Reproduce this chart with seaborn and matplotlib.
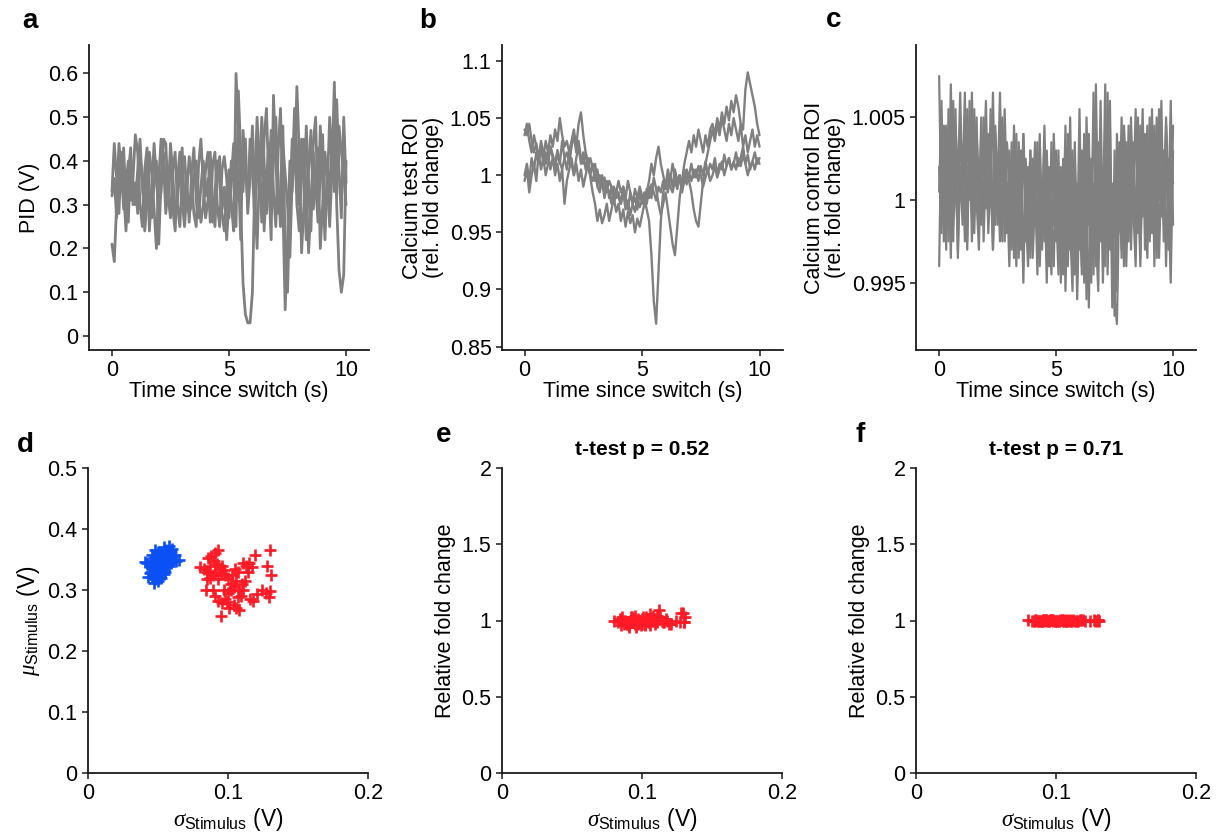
import numpy as np
import pandas as pd
import matplotlib
matplotlib.use("Agg")
import matplotlib.pyplot as plt
import seaborn as sns

# ---------------- data ----------------
time_s = np.round(np.arange(0, 10.01, 0.1), 2)

pid_trace1 = [0.21, 0.17, 0.30, 0.44, 0.38, 0.29, 0.35, 0.40, 0.31, 0.36,
              0.46, 0.42, 0.30, 0.25, 0.38, 0.43, 0.33, 0.27, 0.35, 0.40,
              0.21, 0.36, 0.45, 0.44, 0.32, 0.27, 0.38, 0.42, 0.30, 0.25,
              0.36, 0.41, 0.33, 0.28, 0.30, 0.36, 0.40, 0.32, 0.26, 0.30,
              0.38, 0.42, 0.31, 0.26, 0.33, 0.40, 0.35, 0.28, 0.24, 0.33,
              0.38, 0.30, 0.24, 0.60, 0.48, 0.30, 0.12, 0.05, 0.03, 0.03,
              0.10, 0.35, 0.50, 0.38, 0.26, 0.45, 0.52, 0.35, 0.22, 0.55,
              0.40, 0.28, 0.33, 0.48, 0.20, 0.10, 0.30, 0.45, 0.38, 0.57,
              0.42, 0.19, 0.30, 0.48, 0.35, 0.24, 0.44, 0.50, 0.28, 0.36,
              0.46, 0.25, 0.34, 0.50, 0.38, 0.58, 0.30, 0.15, 0.10, 0.14,
              0.40]
pid_trace2 = [0.33, 0.44, 0.36, 0.28, 0.42, 0.33, 0.24, 0.37, 0.43, 0.30,
              0.35, 0.28, 0.41, 0.36, 0.24, 0.31, 0.42, 0.37, 0.29, 0.20,
              0.36, 0.45, 0.40, 0.28, 0.34, 0.41, 0.29, 0.24, 0.36, 0.42,
              0.31, 0.25, 0.33, 0.41, 0.36, 0.28, 0.25, 0.39, 0.45, 0.35,
              0.27, 0.31, 0.42, 0.30, 0.25, 0.37, 0.41, 0.29, 0.34, 0.22,
              0.31, 0.40, 0.35, 0.25, 0.56, 0.42, 0.33, 0.45, 0.28, 0.36,
              0.48, 0.32, 0.20, 0.38, 0.50, 0.40, 0.28, 0.36, 0.47, 0.33,
              0.25, 0.42, 0.52, 0.30, 0.06, 0.22, 0.40, 0.33, 0.46, 0.30,
              0.24, 0.38, 0.45, 0.33, 0.19, 0.30, 0.42, 0.35, 0.26, 0.48,
              0.35, 0.22, 0.40, 0.30, 0.46, 0.33, 0.54, 0.38, 0.27, 0.50,
              0.35]
pid_trace3 = [0.32, 0.36, 0.27, 0.40, 0.33, 0.43, 0.30, 0.26, 0.41, 0.35,
              0.30, 0.38, 0.45, 0.34, 0.29, 0.40, 0.24, 0.34, 0.44, 0.36,
              0.29, 0.33, 0.42, 0.35, 0.30, 0.44, 0.37, 0.27, 0.31, 0.38,
              0.43, 0.29, 0.35, 0.26, 0.37, 0.43, 0.31, 0.27, 0.34, 0.40,
              0.32, 0.36, 0.26, 0.39, 0.42, 0.30, 0.25, 0.38, 0.41, 0.36,
              0.27, 0.36, 0.44, 0.31, 0.38, 0.22, 0.47, 0.39, 0.30, 0.45,
              0.38, 0.26, 0.42, 0.33, 0.48, 0.24, 0.35, 0.44, 0.29, 0.40,
              0.50, 0.35, 0.25, 0.44, 0.37, 0.30, 0.18, 0.36, 0.52, 0.42,
              0.30, 0.45, 0.34, 0.22, 0.38, 0.47, 0.29, 0.35, 0.43, 0.20,
              0.30, 0.42, 0.36, 0.25, 0.38, 0.45, 0.32, 0.48, 0.42, 0.37,
              0.30]

test_trace1 = [1.040, 1.035, 1.045, 1.030, 1.020, 1.028, 1.015, 1.025, 1.010, 1.020,
               1.015, 1.025, 1.018, 1.010, 1.022, 1.012, 1.005, 1.015, 1.020, 1.010,
               1.025, 1.035, 1.020, 1.030, 1.015, 1.010, 1.020, 1.008, 1.000, 0.995,
               1.005, 0.990, 0.985, 0.995, 0.980, 0.990, 0.985, 0.975, 0.990, 0.980,
               0.985, 0.975, 0.990, 0.980, 0.970, 0.985, 0.975, 0.980, 0.970, 0.985,
               0.975, 0.980, 0.970, 0.960, 0.930, 0.890, 0.870, 0.915, 0.960, 0.985,
               0.995, 0.985, 1.000, 0.990, 1.005, 0.995, 1.000, 0.990, 1.005, 0.995,
               1.000, 1.010, 0.998, 1.005, 0.995, 1.008, 1.000, 1.012, 1.002, 1.010,
               1.005, 1.015, 1.000, 1.010, 1.005, 1.018, 1.008, 1.015, 1.005, 1.010,
               1.020, 1.008, 1.015, 1.025, 1.010, 1.018, 1.005, 1.012, 1.020, 1.010,
               1.015]
test_trace2 = [1.000, 1.010, 0.995, 1.015, 1.005, 1.020, 1.010, 1.025, 1.015, 1.030,
               1.020, 1.035, 1.025, 1.040, 1.030, 1.050, 1.035, 1.025, 1.030, 1.020,
               1.030, 1.040, 1.025, 1.045, 1.055, 1.035, 1.020, 1.010, 1.015, 1.005,
               1.010, 0.995, 1.000, 0.990, 0.998, 0.985, 0.995, 0.990, 0.980, 0.988,
               0.980, 0.975, 0.985, 0.970, 0.978, 0.965, 0.975, 0.968, 0.980, 0.972,
               0.978, 0.985, 0.975, 0.990, 0.980, 0.998, 0.988, 0.975, 0.965, 0.975,
               0.985, 0.970, 0.955, 0.940, 0.930, 0.955, 0.980, 0.995, 1.010, 1.020,
               1.030, 1.020, 1.035, 1.025, 1.040, 1.030, 1.020, 1.035, 1.025, 1.040,
               1.045, 1.035, 1.050, 1.040, 1.055, 1.045, 1.060, 1.048, 1.065, 1.055,
               1.070, 1.060, 1.045, 1.040, 1.075, 1.090, 1.080, 1.070, 1.060, 1.045,
               1.035]
test_trace3 = [1.035, 1.045, 1.030, 1.020, 1.035, 1.025, 1.015, 1.030, 1.020, 1.010,
               1.020, 1.005, 1.015, 1.000, 1.010, 0.995, 1.005, 0.975, 0.995, 1.005,
               1.015, 1.000, 1.010, 0.995, 1.005, 0.990, 1.000, 1.010, 0.998, 0.985,
               0.975, 0.960, 0.970, 0.958, 0.965, 0.975, 0.960, 0.970, 0.980, 0.968,
               0.975, 0.960, 0.970, 0.955, 0.968, 0.958, 0.965, 0.950, 0.962, 0.955,
               0.965, 0.975, 0.985, 0.995, 1.010, 1.000, 1.015, 1.025, 1.010, 1.000,
               0.990, 1.005, 0.995, 1.010, 1.000, 0.990, 1.000, 0.985, 0.995, 1.005,
               0.995, 0.985, 0.970, 0.960, 0.955, 0.975, 0.995, 1.010, 1.020, 1.030,
               1.040, 1.030, 1.045, 1.035, 1.050, 1.040, 1.030, 1.045, 1.035, 1.050,
               1.040, 1.030, 1.045, 1.025, 1.035, 1.020, 1.030, 1.040, 1.025, 1.035,
               1.025]
test_trace4 = [0.995, 1.005, 0.985, 1.000, 1.010, 0.995, 1.020, 1.005, 1.015, 1.000,
               1.010, 1.025, 1.015, 1.005, 1.020, 1.010, 1.030, 1.015, 1.005, 1.020,
               1.010, 1.000, 1.015, 1.025, 1.010, 1.020, 1.005, 1.015, 1.000, 1.010,
               0.995, 1.005, 0.990, 1.000, 0.985, 0.995, 0.980, 0.990, 0.975, 0.985,
               0.995, 0.985, 0.990, 0.980, 0.995, 0.985, 0.975, 0.988, 0.980, 0.990,
               0.982, 0.975, 0.988, 0.980, 0.992, 0.985, 0.978, 0.990, 0.985, 0.995,
               0.988, 0.998, 0.990, 0.985, 0.995, 0.988, 0.998, 0.990, 1.000, 0.992,
               1.002, 0.995, 1.005, 0.998, 1.008, 1.000, 0.990, 0.998, 1.005, 0.995,
               1.000, 1.008, 0.998, 1.005, 1.012, 1.000, 1.008, 1.015, 1.005, 1.012,
               1.005, 1.015, 1.008, 1.018, 1.010, 1.000, 1.008, 1.012, 1.005, 1.015,
               1.010]

ctrl_trace1 = [1.0075, 0.9985, 1.0045, 0.9995, 1.0030, 0.9965, 1.0060, 1.0005, 0.9980, 1.0050,
               1.0010, 1.0065, 0.9975, 1.0035, 0.9990, 1.0055, 1.0000, 0.9970, 1.0040, 1.0015,
               1.0060, 0.9985, 1.0030, 0.9975, 1.0045, 1.0005, 1.0065, 0.9990, 1.0025, 0.9980,
               1.0030, 0.9970, 1.0015, 0.9960, 1.0035, 0.9990, 1.0040, 0.9975, 1.0020, 0.9965,
               1.0025, 0.9985, 1.0035, 0.9960, 1.0010, 0.9975, 1.0030, 0.9985, 0.9955, 1.0020,
               0.9975, 1.0030, 0.9950, 1.0010, 0.9965, 1.0040, 0.9985, 0.9945, 1.0025, 0.9970,
               1.0055, 0.9960, 1.0015, 0.9940, 1.0030, 0.9975, 1.0065, 0.9980, 0.9945, 1.0035,
               0.9990, 1.0070, 0.9955, 1.0025, 0.9975, 0.9930, 1.0040, 0.9985, 1.0050, 0.9960,
               1.0035, 0.9975, 1.0050, 0.9995, 0.9960, 1.0040, 1.0000, 1.0055, 0.9970, 1.0030,
               0.9985, 1.0055, 0.9960, 1.0035, 1.0000, 1.0060, 0.9975, 1.0045, 0.9990, 1.0060,
               0.9985]
ctrl_trace2 = [0.9960, 1.0050, 1.0010, 1.0045, 0.9975, 1.0030, 0.9995, 1.0055, 0.9965, 1.0020,
               0.9985, 1.0040, 0.9970, 1.0060, 1.0005, 0.9980, 1.0035, 0.9995, 1.0050, 0.9975,
               1.0025, 0.9990, 1.0055, 0.9970, 1.0035, 0.9985, 1.0020, 1.0050, 0.9975, 1.0010,
               0.9960, 1.0020, 0.9985, 1.0040, 0.9965, 1.0010, 0.9950, 1.0025, 0.9980, 1.0030,
               0.9970, 1.0015, 0.9955, 1.0030, 0.9990, 1.0035, 0.9965, 1.0010, 0.9975, 1.0040,
               0.9995, 0.9955, 1.0020, 0.9975, 1.0045, 0.9960, 1.0010, 0.9985, 1.0035, 0.9950,
               1.0010, 0.9965, 1.0040, 0.9990, 0.9935, 1.0025, 0.9970, 1.0070, 0.9985, 1.0030,
               0.9950, 1.0015, 0.9975, 1.0045, 0.9935, 1.0030, 0.9980, 1.0035, 0.9965, 1.0020,
               0.9980, 1.0045, 0.9970, 1.0020, 0.9985, 1.0050, 0.9965, 1.0025, 0.9990, 1.0045,
               0.9975, 1.0030, 0.9990, 1.0050, 0.9965, 1.0020, 0.9985, 1.0040, 0.9970, 1.0030,
               1.0010]
ctrl_trace3 = [1.0020, 0.9980, 1.0040, 0.9970, 1.0055, 1.0000, 0.9975, 1.0045, 1.0010, 1.0065,
               0.9995, 1.0030, 0.9985, 1.0045, 0.9975, 1.0020, 1.0050, 0.9985, 1.0030, 0.9990,
               1.0045, 0.9980, 1.0015, 0.9970, 1.0040, 0.9995, 1.0030, 0.9975, 1.0055, 1.0000,
               0.9975, 1.0035, 0.9965, 1.0005, 0.9980, 1.0030, 0.9960, 1.0015, 0.9985, 1.0030,
               0.9965, 1.0005, 0.9975, 1.0040, 0.9970, 1.0015, 0.9950, 1.0020, 0.9990, 0.9960,
               1.0030, 0.9970, 1.0010, 0.9955, 1.0020, 0.9975, 1.0050, 0.9965, 1.0015, 0.9940,
               1.0005, 0.9955, 1.0025, 0.9975, 1.0040, 0.9950, 1.0010, 0.9960, 1.0035, 0.9975,
               1.0020, 0.9960, 1.0065, 0.9970, 1.0010, 0.9940, 0.9925, 1.0005, 0.9970, 1.0030,
               0.9960, 1.0020, 0.9985, 1.0035, 0.9975, 1.0015, 0.9960, 1.0035, 0.9995, 0.9965,
               1.0035, 0.9980, 1.0025, 0.9965, 1.0040, 0.9990, 1.0030, 0.9960, 1.0025, 0.9975,
               1.0045]
ctrl_trace4 = [1.0005, 1.0060, 0.9975, 1.0025, 0.9990, 1.0070, 0.9985, 1.0035, 0.9970, 1.0040,
               1.0025, 0.9975, 1.0055, 1.0000, 1.0065, 0.9990, 1.0040, 1.0010, 0.9985, 1.0050,
               0.9995, 1.0040, 1.0005, 1.0065, 0.9985, 1.0020, 0.9975, 1.0045, 0.9990, 1.0035,
               1.0010, 0.9975, 1.0045, 0.9985, 1.0020, 0.9970, 1.0040, 0.9995, 0.9960, 1.0015,
               1.0000, 1.0035, 0.9965, 1.0015, 0.9985, 1.0045, 0.9980, 0.9960, 1.0035, 0.9985,
               1.0015, 0.9985, 0.9960, 1.0025, 0.9945, 1.0015, 0.9970, 1.0030, 0.9955, 1.0010,
               0.9970, 1.0030, 0.9950, 1.0050, 0.9985, 1.0020, 0.9955, 1.0045, 0.9965, 1.0060,
               0.9975, 1.0025, 0.9985, 1.0060, 0.9955, 1.0010, 0.9945, 1.0030, 0.9995, 1.0045,
               1.0015, 0.9980, 1.0040, 1.0000, 1.0055, 0.9980, 1.0045, 0.9990, 1.0040, 0.9985,
               1.0050, 1.0005, 1.0045, 0.9985, 1.0055, 1.0010, 0.9990, 1.0050, 1.0005, 0.9950,
               1.0030]

blue_sigma = [0.042, 0.045, 0.047, 0.044, 0.048, 0.050, 0.046, 0.049, 0.051, 0.053,
              0.047, 0.049, 0.051, 0.045, 0.048, 0.050, 0.052, 0.046, 0.053, 0.054,
              0.055, 0.057, 0.056, 0.054, 0.058, 0.059, 0.060, 0.061, 0.063, 0.065,
              0.052, 0.050, 0.048, 0.053, 0.057, 0.059, 0.044, 0.043, 0.047, 0.055,
              0.056, 0.058, 0.062, 0.060, 0.051, 0.049, 0.046, 0.054, 0.041, 0.052]
blue_mu = [0.344, 0.348, 0.352, 0.340, 0.345, 0.350, 0.335, 0.338, 0.342, 0.348,
           0.325, 0.322, 0.328, 0.330, 0.318, 0.315, 0.320, 0.322, 0.332, 0.338,
           0.352, 0.358, 0.365, 0.370, 0.372, 0.362, 0.355, 0.350, 0.348, 0.350,
           0.360, 0.362, 0.365, 0.355, 0.345, 0.345, 0.328, 0.322, 0.312, 0.330,
           0.340, 0.340, 0.358, 0.368, 0.356, 0.330, 0.358, 0.326, 0.346, 0.336]

red_sigma = [0.080, 0.083, 0.085, 0.087, 0.086, 0.088, 0.091, 0.093, 0.090, 0.092,
             0.089, 0.087, 0.091, 0.094, 0.096, 0.095, 0.097, 0.098, 0.085, 0.093,
             0.084, 0.089, 0.091, 0.093, 0.096, 0.098, 0.100, 0.102, 0.104, 0.100,
             0.103, 0.105, 0.107, 0.106, 0.108, 0.110, 0.109, 0.101, 0.104, 0.106,
             0.108, 0.095, 0.099, 0.112, 0.113, 0.115, 0.117, 0.111, 0.119, 0.114,
             0.116, 0.118, 0.121, 0.124, 0.127, 0.129, 0.130, 0.128, 0.131, 0.130,
             0.107, 0.102, 0.097, 0.111]
red_mu = [0.338, 0.335, 0.330, 0.340, 0.352, 0.356, 0.360, 0.365, 0.348, 0.342,
          0.325, 0.320, 0.330, 0.335, 0.340, 0.328, 0.332, 0.325, 0.318, 0.318,
          0.300, 0.300, 0.290, 0.282, 0.278, 0.285, 0.295, 0.310, 0.305, 0.320,
          0.325, 0.335, 0.330, 0.315, 0.300, 0.310, 0.290, 0.270, 0.275, 0.270,
          0.268, 0.258, 0.280, 0.315, 0.340, 0.345, 0.338, 0.345, 0.358, 0.330,
          0.285, 0.282, 0.293, 0.300, 0.295, 0.288, 0.298, 0.340, 0.325, 0.365,
          0.288, 0.300, 0.300, 0.300]

test_fold = [1.00, 0.99, 1.01, 0.98, 1.02, 1.00, 0.97, 1.01, 0.99, 1.02,
             0.98, 1.00, 0.96, 1.01, 0.99, 1.03, 0.98, 1.00, 0.97, 1.02,
             1.01, 0.98, 0.97, 1.00, 0.96, 0.99, 1.01, 0.97, 1.00, 0.98,
             1.02, 0.99, 1.01, 0.97, 1.03, 1.00, 0.98, 1.02, 0.99, 1.04,
             1.00, 0.98, 0.97, 1.07, 1.02, 0.99, 1.01, 1.03, 0.98, 1.00,
             0.99, 1.00, 0.98, 1.00, 0.99, 1.05, 0.99, 1.05, 1.02, 0.99,
             1.00, 0.98, 1.01, 0.99]
ctrl_fold = [1.002, 0.998, 1.001, 0.999, 1.003, 1.000, 0.997, 1.002, 0.999, 1.001,
             0.998, 1.000, 1.003, 0.999, 1.001, 0.998, 1.002, 1.000, 0.999, 1.001,
             1.000, 0.998, 1.002, 0.999, 1.001, 1.003, 0.998, 1.000, 1.002, 0.999,
             1.001, 0.998, 1.000, 1.002, 0.999, 1.001, 0.997, 1.000, 1.002, 0.999,
             1.001, 1.000, 0.998, 1.002, 1.000, 0.999, 1.001, 0.998, 1.002, 1.000,
             0.999, 1.001, 1.000, 0.998, 1.002, 0.999, 1.001, 1.000, 0.998, 1.002,
             1.000, 0.999, 1.001, 1.000]

pid_traces = [pid_trace1, pid_trace2, pid_trace3]
test_traces = [test_trace1, test_trace2, test_trace3, test_trace4]
ctrl_traces = [ctrl_trace1, ctrl_trace2, ctrl_trace3, ctrl_trace4]

GRAY = "#808080"
BLUE = "#0a50f5"
RED = "#ff1a26"

# ---------------- style ----------------
sns.set_theme(style="ticks")
plt.rcParams["font.family"] = ["Liberation Sans", "DejaVu Sans"]
plt.rcParams["mathtext.fontset"] = "custom"
plt.rcParams["mathtext.rm"] = "Liberation Sans"
plt.rcParams["mathtext.it"] = "Liberation Serif:italic"
plt.rcParams["axes.linewidth"] = 1.3
plt.rcParams["axes.edgecolor"] = "#1a1a1a"
plt.rcParams["text.color"] = "black"
plt.rcParams["axes.labelcolor"] = "black"
plt.rcParams["xtick.labelcolor"] = "black"
plt.rcParams["ytick.labelcolor"] = "black"
plt.rcParams["xtick.color"] = "#1a1a1a"
plt.rcParams["ytick.color"] = "#1a1a1a"
plt.rcParams["xtick.major.width"] = 1.1
plt.rcParams["ytick.major.width"] = 1.1
plt.rcParams["xtick.major.size"] = 4
plt.rcParams["ytick.major.size"] = 4

FS = 15.5
W, H = 1218, 839
fig = plt.figure(figsize=(W / 100, H / 100), dpi=100)


def axes_px(x0, x1, ytop, ybot):
    return fig.add_axes([x0 / W, 1 - ybot / H, (x1 - x0) / W, (ybot - ytop) / H])


ax_a = axes_px(89, 369, 45, 350)
ax_b = axes_px(502, 783, 45, 350)
ax_c = axes_px(916, 1196, 45, 350)
ax_d = axes_px(88, 368, 468, 773)
ax_e = axes_px(502, 782, 468, 773)
ax_f = axes_px(916, 1196, 468, 773)

# top row traces
for tr in pid_traces:
    sns.lineplot(x=time_s, y=tr, ax=ax_a, color=GRAY, linewidth=2.0)
for tr in test_traces:
    sns.lineplot(x=time_s, y=tr, ax=ax_b, color=GRAY, linewidth=1.7)
for tr in ctrl_traces:
    sns.lineplot(x=time_s, y=tr, ax=ax_c, color=GRAY, linewidth=1.6)

ax_a.set_xlim(-0.98, 10.98)
ax_a.set_ylim(-0.032, 0.665)
ax_a.set_yticks([0, 0.1, 0.2, 0.3, 0.4, 0.5, 0.6])
ax_a.set_yticklabels(["0", "0.1", "0.2", "0.3", "0.4", "0.5", "0.6"])
ax_a.set_ylabel("PID (V)", fontsize=FS, labelpad=6)

ax_b.set_xlim(-0.96, 11.0)
ax_b.set_ylim(0.847, 1.114)
ax_b.set_yticks([0.85, 0.9, 0.95, 1.0, 1.05, 1.1])
ax_b.set_yticklabels(["0.85", "0.9", "0.95", "1", "1.05", "1.1"])
ax_b.set_ylabel("Calcium test ROI\n(rel. fold change)", fontsize=FS, linespacing=1.0)

ax_c.set_xlim(-0.99, 10.98)
ax_c.set_ylim(0.99093, 1.00938)
ax_c.set_yticks([0.995, 1.0, 1.005])
ax_c.set_yticklabels(["0.995", "1", "1.005"])
ax_c.set_ylabel("Calcium control ROI\n(rel. fold change)", fontsize=FS, linespacing=1.0)

for ax in (ax_a, ax_b, ax_c):
    ax.set_xticks([0, 5, 10])
    ax.set_xticklabels(["0", "5", "10"])
    ax.set_xlabel("Time since switch (s)", fontsize=FS, labelpad=0)

# bottom row scatter
sig_label = r"$\sigma_{\mathrm{Stimulus}}$ (V)"
sns.scatterplot(x=blue_sigma, y=blue_mu, ax=ax_d, marker="+", s=85,
                color=BLUE, linewidth=1.9)
sns.scatterplot(x=red_sigma, y=red_mu, ax=ax_d, marker="+", s=85,
                color=RED, linewidth=1.9)
ax_d.set_ylim(0, 0.5)
ax_d.set_yticks([0, 0.1, 0.2, 0.3, 0.4, 0.5])
ax_d.set_yticklabels(["0", "0.1", "0.2", "0.3", "0.4", "0.5"])
ax_d.set_ylabel(r"$\mu_{\mathrm{Stimulus}}$ (V)", fontsize=FS + 1)

sns.scatterplot(x=red_sigma, y=test_fold, ax=ax_e, marker="+", s=85,
                color=RED, linewidth=1.9)
sns.scatterplot(x=red_sigma, y=ctrl_fold, ax=ax_f, marker="+", s=85,
                color=RED, linewidth=1.9)
for ax, ttl in ((ax_e, "t-test p = 0.52"), (ax_f, "t-test p = 0.71")):
    ax.set_ylim(0, 2)
    ax.set_yticks([0, 0.5, 1, 1.5, 2])
    ax.set_yticklabels(["0", "0.5", "1", "1.5", "2"])
    ax.set_ylabel("Relative fold change", fontsize=FS)
    ax.set_title(ttl, fontsize=15, fontweight="bold", pad=9)

for ax in (ax_d, ax_e, ax_f):
    ax.set_xlim(0, 0.2)
    ax.set_xticks([0, 0.1, 0.2])
    ax.set_xticklabels(["0", "0.1", "0.2"])
    ax.set_xlabel(sig_label, fontsize=FS + 1, labelpad=1)

for ax in (ax_a, ax_b, ax_c, ax_d, ax_e, ax_f):
    ax.tick_params(labelsize=FS, direction="out")
    sns.despine(ax=ax)

# panel letters
for letter, xp, yp in (("a", 22, 28), ("b", 419, 28), ("c", 826, 27),
                       ("d", 17, 452), ("e", 436, 442), ("f", 855, 442)):
    fig.text(xp / W, 1 - yp / H, letter, fontsize=20, fontweight="bold",
             ha="left", va="baseline")

fig.savefig("out.png", dpi=100, facecolor="white")
